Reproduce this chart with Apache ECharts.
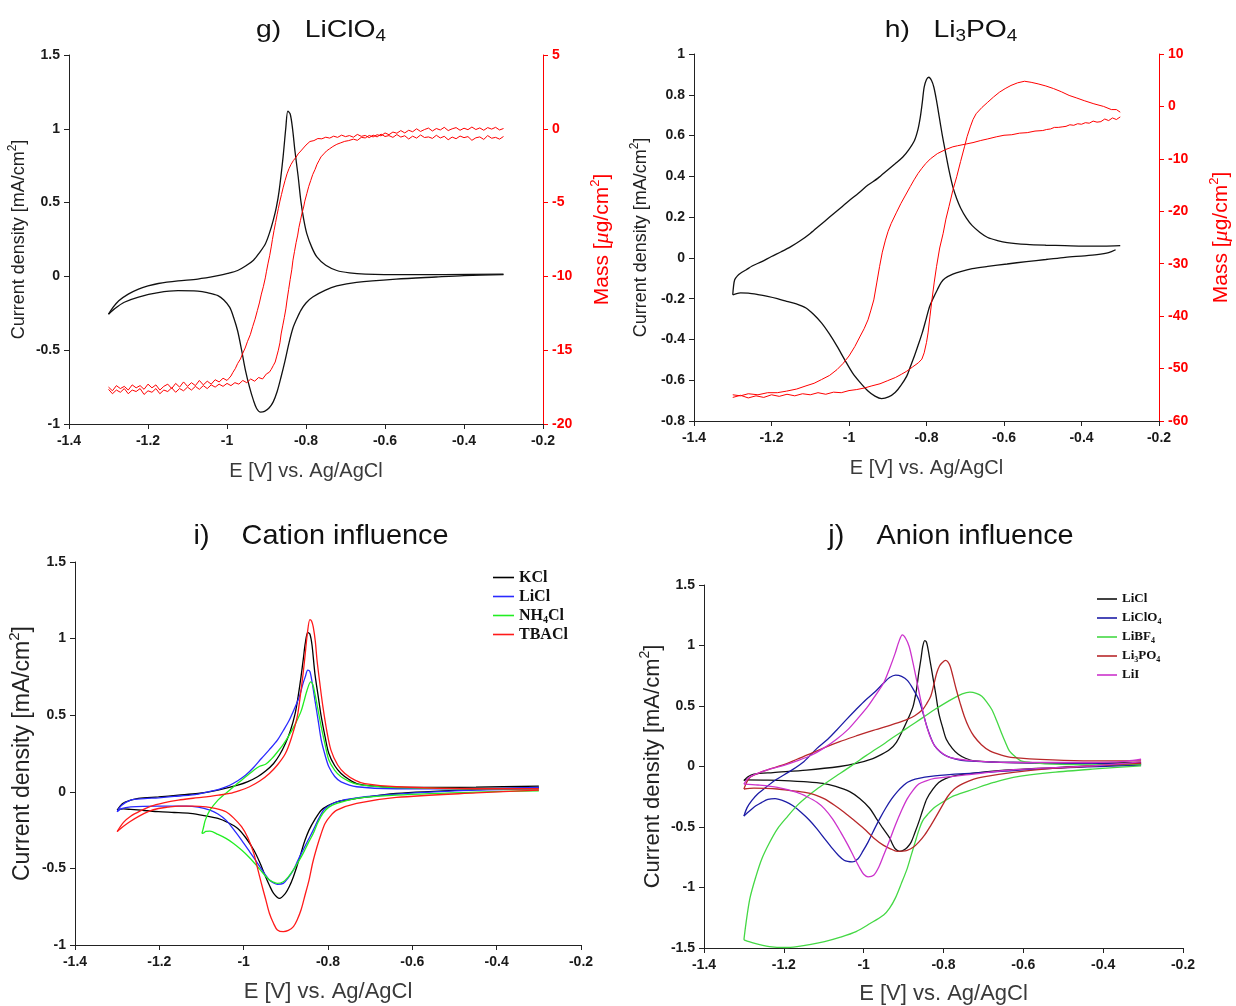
<!DOCTYPE html>
<html><head><meta charset="utf-8">
<script src="https://cdn.jsdelivr.net/npm/echarts@6/dist/echarts.min.js"></script>
<style>html,body{margin:0;padding:0;background:#fff}#c{width:1236px;height:1006px}</style>
</head><body><div id="c"></div>
<script>
// ---------------- DATA ----------------
// g) LiClO4 : current density (mA/cm2) and mass (ug/cm2) vs E (V)
const gCurrentUp = [[-1.300,-0.256],[-1.290,-0.215],[-1.274,-0.165],[-1.250,-0.120],[-1.224,-0.086],[-1.200,-0.065],[-1.174,-0.048],[-1.124,-0.030],[-1.074,-0.018],[-1.023,0.005],[-0.998,0.020],[-0.973,0.040],[-0.953,0.070],[-0.933,0.110],[-0.918,0.160],[-0.903,0.220],[-0.893,0.290],[-0.883,0.380],[-0.875,0.470],[-0.868,0.580],[-0.858,0.810],[-0.851,1.010],[-0.846,1.120],[-0.840,1.100],[-0.834,1.000],[-0.828,0.850],[-0.820,0.680],[-0.813,0.510],[-0.806,0.390],[-0.798,0.290],[-0.785,0.195],[-0.772,0.130],[-0.750,0.075],[-0.722,0.040],[-0.690,0.024],[-0.650,0.016],[-0.550,0.012],[-0.450,0.012],[-0.300,0.016]];
const gCurrentDown = [[-0.300,0.012],[-0.400,0.005],[-0.471,-0.004],[-0.572,-0.018],[-0.672,-0.040],[-0.722,-0.065],[-0.752,-0.095],[-0.783,-0.140],[-0.800,-0.180],[-0.813,-0.230],[-0.823,-0.285],[-0.833,-0.350],[-0.843,-0.450],[-0.853,-0.570],[-0.863,-0.680],[-0.873,-0.780],[-0.883,-0.850],[-0.893,-0.890],[-0.905,-0.915],[-0.915,-0.920],[-0.925,-0.895],[-0.933,-0.840],[-0.943,-0.750],[-0.953,-0.640],[-0.963,-0.500],[-0.973,-0.370],[-0.983,-0.280],[-0.993,-0.210],[-1.008,-0.160],[-1.023,-0.130],[-1.050,-0.110],[-1.074,-0.100],[-1.124,-0.097],[-1.174,-0.110],[-1.224,-0.140],[-1.260,-0.175],[-1.285,-0.220],[-1.300,-0.256]];
const gMassCathodic = [[-0.300,-0.52],[-0.310,-0.70],[-0.320,-0.58],[-0.330,-0.64],[-0.340,-0.46],[-0.350,-0.72],[-0.360,-0.55],[-0.370,-0.61],[-0.380,-0.78],[-0.390,-0.53],[-0.400,-0.60],[-0.410,-0.49],[-0.420,-0.67],[-0.430,-0.56],[-0.440,-0.74],[-0.450,-0.51],[-0.460,-0.62],[-0.470,-0.44],[-0.480,-0.65],[-0.490,-0.55],[-0.500,-0.59],[-0.510,-0.42],[-0.520,-0.63],[-0.530,-0.50],[-0.540,-0.69],[-0.550,-0.47],[-0.560,-0.56],[-0.570,-0.39],[-0.580,-0.58],[-0.590,-0.46],[-0.600,-0.52],[-0.610,-0.36],[-0.620,-0.55],[-0.630,-0.43],[-0.640,-0.60],[-0.650,-0.45],[-0.660,-0.51],[-0.670,-0.38],[-0.680,-0.57],[-0.690,-0.46],[-0.700,-0.53],[-0.710,-0.43],[-0.720,-0.58],[-0.730,-0.50],[-0.740,-0.63],[-0.750,-0.57],[-0.760,-0.68],[-0.770,-0.66],[-0.780,-0.80],[-0.790,-0.86],[-0.800,-1.10],[-0.805,-1.22],[-0.813,-1.50],[-0.820,-1.70],[-0.825,-1.92],[-0.832,-2.15],[-0.838,-2.42],[-0.843,-2.70],[-0.848,-3.05],[-0.853,-3.50],[-0.858,-4.00],[-0.862,-4.45],[-0.866,-4.90],[-0.870,-5.40],[-0.873,-5.80],[-0.877,-6.35],[-0.881,-6.90],[-0.885,-7.50],[-0.888,-8.00],[-0.892,-8.60],[-0.896,-9.10],[-0.900,-9.65],[-0.903,-10.10],[-0.908,-10.70],[-0.913,-11.20],[-0.918,-11.80],[-0.923,-12.30],[-0.929,-12.90],[-0.935,-13.40],[-0.941,-13.95],[-0.948,-14.40],[-0.954,-14.85],[-0.960,-15.20],[-0.966,-15.60],[-0.973,-15.90],[-0.979,-16.25],[-0.985,-16.50],[-0.990,-16.75],[-0.995,-16.90],[-1.000,-17.05],[-1.010,-16.90],[-1.020,-17.15],[-1.030,-17.00],[-1.040,-17.30],[-1.050,-17.10],[-1.060,-17.35],[-1.070,-17.05],[-1.080,-17.40],[-1.090,-17.20],[-1.100,-17.45],[-1.110,-17.15],[-1.120,-17.50],[-1.130,-17.25],[-1.140,-17.60],[-1.150,-17.30],[-1.160,-17.45],[-1.170,-17.70],[-1.180,-17.35],[-1.190,-17.55],[-1.200,-17.30],[-1.210,-17.65],[-1.220,-17.40],[-1.230,-17.55],[-1.240,-17.35],[-1.250,-17.70],[-1.260,-17.45],[-1.270,-17.60],[-1.280,-17.40],[-1.290,-17.75],[-1.300,-17.50]];
const gMassAnodic = [[-1.300,-17.65],[-1.290,-17.95],[-1.280,-17.70],[-1.270,-17.85],[-1.260,-17.60],[-1.250,-17.95],[-1.240,-17.70],[-1.230,-17.80],[-1.220,-17.60],[-1.210,-18.00],[-1.200,-17.75],[-1.190,-17.85],[-1.180,-17.60],[-1.170,-17.95],[-1.160,-17.70],[-1.150,-17.80],[-1.140,-17.55],[-1.130,-17.85],[-1.120,-17.60],[-1.110,-17.75],[-1.100,-17.50],[-1.090,-17.70],[-1.080,-17.45],[-1.070,-17.65],[-1.060,-17.40],[-1.050,-17.60],[-1.040,-17.35],[-1.030,-17.50],[-1.020,-17.30],[-1.010,-17.45],[-1.000,-17.25],[-0.990,-17.40],[-0.980,-17.20],[-0.970,-17.30],[-0.960,-17.05],[-0.950,-17.20],[-0.940,-16.95],[-0.930,-17.10],[-0.920,-16.85],[-0.910,-16.95],[-0.900,-16.60],[-0.893,-16.50],[-0.888,-16.30],[-0.883,-16.05],[-0.878,-15.80],[-0.874,-15.40],[-0.870,-15.00],[-0.866,-14.50],[-0.863,-13.90],[-0.859,-13.35],[-0.855,-12.80],[-0.851,-12.20],[-0.848,-11.60],[-0.844,-10.90],[-0.840,-10.20],[-0.836,-9.55],[-0.833,-8.90],[-0.829,-8.30],[-0.825,-7.70],[-0.821,-7.20],[-0.818,-6.70],[-0.814,-6.20],[-0.810,-5.70],[-0.806,-5.30],[-0.803,-4.90],[-0.798,-4.40],[-0.793,-3.90],[-0.788,-3.50],[-0.783,-3.10],[-0.777,-2.75],[-0.772,-2.40],[-0.767,-2.15],[-0.762,-1.90],[-0.755,-1.70],[-0.748,-1.50],[-0.740,-1.35],[-0.732,-1.20],[-0.722,-1.05],[-0.712,-0.95],[-0.702,-0.85],[-0.692,-0.80],[-0.680,-0.70],[-0.670,-0.78],[-0.660,-0.58],[-0.650,-0.62],[-0.640,-0.45],[-0.630,-0.55],[-0.620,-0.40],[-0.610,-0.48],[-0.600,-0.28],[-0.590,-0.40],[-0.580,-0.22],[-0.570,-0.30],[-0.560,-0.12],[-0.550,-0.28],[-0.540,-0.10],[-0.530,-0.20],[-0.520,0.00],[-0.510,-0.18],[-0.500,-0.05],[-0.490,0.05],[-0.480,-0.15],[-0.470,0.02],[-0.460,-0.08],[-0.450,0.10],[-0.440,-0.12],[-0.430,0.00],[-0.420,0.08],[-0.410,-0.10],[-0.400,0.04],[-0.390,-0.06],[-0.380,0.12],[-0.370,-0.05],[-0.360,0.06],[-0.350,-0.10],[-0.340,0.08],[-0.330,-0.02],[-0.320,0.10],[-0.310,-0.08],[-0.300,0.02]];

// h) Li3PO4
const hCurrentUp = [[-1.300,-0.181],[-1.298,-0.140],[-1.295,-0.107],[-1.288,-0.088],[-1.280,-0.075],[-1.265,-0.058],[-1.250,-0.040],[-1.225,-0.018],[-1.200,0.007],[-1.175,0.030],[-1.150,0.055],[-1.125,0.085],[-1.100,0.120],[-1.075,0.160],[-1.050,0.200],[-1.025,0.240],[-1.000,0.280],[-0.975,0.318],[-0.951,0.357],[-0.926,0.390],[-0.901,0.430],[-0.881,0.462],[-0.861,0.495],[-0.846,0.530],[-0.831,0.576],[-0.822,0.630],[-0.816,0.690],[-0.811,0.760],[-0.806,0.837],[-0.800,0.875],[-0.794,0.886],[-0.787,0.870],[-0.781,0.837],[-0.774,0.770],[-0.767,0.690],[-0.760,0.610],[-0.752,0.528],[-0.742,0.430],[-0.732,0.348],[-0.722,0.290],[-0.712,0.245],[-0.697,0.195],[-0.682,0.158],[-0.662,0.125],[-0.642,0.100],[-0.617,0.085],[-0.592,0.075],[-0.542,0.066],[-0.492,0.062],[-0.443,0.060],[-0.393,0.058],[-0.343,0.058],[-0.300,0.060]];
const hCurrentDown = [[-0.312,0.040],[-0.330,0.026],[-0.360,0.016],[-0.392,0.010],[-0.442,0.003],[-0.492,-0.008],[-0.542,-0.018],[-0.592,-0.030],[-0.642,-0.042],[-0.682,-0.053],[-0.712,-0.067],[-0.732,-0.080],[-0.752,-0.100],[-0.762,-0.120],[-0.772,-0.156],[-0.782,-0.195],[-0.792,-0.238],[-0.801,-0.300],[-0.811,-0.368],[-0.821,-0.425],[-0.831,-0.480],[-0.841,-0.530],[-0.851,-0.580],[-0.866,-0.625],[-0.881,-0.660],[-0.898,-0.682],[-0.916,-0.690],[-0.933,-0.678],[-0.951,-0.653],[-0.971,-0.612],[-0.991,-0.564],[-1.011,-0.500],[-1.031,-0.433],[-1.051,-0.372],[-1.071,-0.319],[-1.091,-0.278],[-1.111,-0.246],[-1.136,-0.226],[-1.161,-0.213],[-1.185,-0.200],[-1.210,-0.189],[-1.235,-0.180],[-1.260,-0.173],[-1.280,-0.172],[-1.290,-0.175],[-1.300,-0.181]];
const hMassCathodic = [[-0.300,-2.0],[-0.310,-2.5],[-0.320,-2.2],[-0.330,-2.7],[-0.340,-2.4],[-0.350,-2.9],[-0.360,-3.0],[-0.370,-2.8],[-0.380,-3.2],[-0.390,-3.1],[-0.400,-3.4],[-0.410,-3.3],[-0.420,-3.6],[-0.430,-3.5],[-0.440,-3.8],[-0.450,-3.9],[-0.460,-4.0],[-0.470,-4.0],[-0.480,-4.3],[-0.490,-4.4],[-0.500,-4.6],[-0.520,-4.7],[-0.540,-5.0],[-0.560,-5.1],[-0.580,-5.4],[-0.600,-5.5],[-0.620,-5.8],[-0.642,-6.2],[-0.660,-6.5],[-0.680,-6.9],[-0.700,-7.2],[-0.720,-7.5],[-0.732,-7.7],[-0.750,-8.2],[-0.772,-9.0],[-0.790,-10.0],[-0.802,-10.9],[-0.812,-11.8],[-0.822,-12.8],[-0.832,-14.0],[-0.842,-15.3],[-0.854,-16.9],[-0.866,-18.5],[-0.878,-20.3],[-0.891,-22.3],[-0.899,-23.8],[-0.906,-25.5],[-0.914,-27.8],[-0.921,-30.5],[-0.928,-33.5],[-0.936,-36.9],[-0.944,-39.0],[-0.951,-40.7],[-0.961,-42.4],[-0.971,-43.8],[-0.985,-45.8],[-1.000,-47.6],[-1.015,-49.0],[-1.031,-50.2],[-1.050,-51.3],[-1.071,-52.1],[-1.090,-52.8],[-1.111,-53.3],[-1.135,-53.9],[-1.161,-54.3],[-1.185,-54.6],[-1.210,-54.6],[-1.235,-55.0],[-1.260,-54.8],[-1.280,-55.2],[-1.300,-55.0]];
const hMassAnodic = [[-1.300,-55.5],[-1.280,-55.1],[-1.260,-55.6],[-1.240,-55.2],[-1.220,-55.5],[-1.200,-55.0],[-1.180,-55.3],[-1.160,-54.9],[-1.140,-55.2],[-1.120,-54.8],[-1.100,-55.0],[-1.080,-54.6],[-1.060,-54.9],[-1.040,-54.5],[-1.020,-54.6],[-1.000,-54.2],[-0.980,-54.0],[-0.960,-53.7],[-0.941,-53.3],[-0.920,-52.9],[-0.900,-52.3],[-0.880,-51.7],[-0.865,-51.1],[-0.851,-50.5],[-0.836,-49.7],[-0.821,-48.9],[-0.812,-48.2],[-0.806,-47.0],[-0.800,-45.0],[-0.796,-43.2],[-0.791,-40.0],[-0.786,-36.9],[-0.780,-33.5],[-0.774,-30.5],[-0.766,-27.0],[-0.757,-24.2],[-0.750,-21.5],[-0.742,-19.1],[-0.732,-16.0],[-0.722,-13.4],[-0.712,-10.5],[-0.702,-7.7],[-0.695,-5.7],[-0.687,-3.9],[-0.680,-2.5],[-0.672,-1.4],[-0.657,-0.2],[-0.642,0.8],[-0.627,1.8],[-0.612,2.7],[-0.597,3.4],[-0.582,4.0],[-0.565,4.5],[-0.547,4.8],[-0.530,4.6],[-0.512,4.3],[-0.492,3.9],[-0.472,3.4],[-0.452,2.8],[-0.432,2.1],[-0.412,1.6],[-0.393,1.1],[-0.368,0.5],[-0.343,0.0],[-0.323,-0.6],[-0.310,-0.6],[-0.300,-1.1]];

// i) Cation influence
const iKClUp = [[-1.300,-0.120],[-1.287,-0.076],[-1.268,-0.055],[-1.250,-0.043],[-1.202,-0.033],[-1.155,-0.022],[-1.108,-0.011],[-1.061,0.011],[-1.014,0.043],[-0.990,0.066],[-0.967,0.098],[-0.948,0.135],[-0.929,0.185],[-0.915,0.240],[-0.901,0.315],[-0.889,0.400],[-0.878,0.510],[-0.871,0.620],[-0.864,0.750],[-0.858,0.880],[-0.854,0.967],[-0.848,1.040],[-0.843,1.030],[-0.838,0.960],[-0.831,0.770],[-0.823,0.620],[-0.816,0.490],[-0.807,0.360],[-0.798,0.250],[-0.784,0.170],[-0.769,0.120],[-0.750,0.080],[-0.732,0.054],[-0.690,0.037],[-0.638,0.030],[-0.540,0.028],[-0.449,0.030],[-0.300,0.037]];
const iKClDown = [[-0.300,0.028],[-0.449,0.015],[-0.638,-0.011],[-0.732,-0.043],[-0.779,-0.065],[-0.800,-0.090],[-0.816,-0.120],[-0.831,-0.180],[-0.845,-0.250],[-0.855,-0.320],[-0.864,-0.400],[-0.873,-0.480],[-0.882,-0.554],[-0.892,-0.620],[-0.901,-0.663],[-0.915,-0.696],[-0.929,-0.663],[-0.939,-0.610],[-0.948,-0.554],[-0.962,-0.460],[-0.976,-0.380],[-0.995,-0.300],[-1.014,-0.239],[-1.038,-0.200],[-1.061,-0.174],[-1.094,-0.155],[-1.127,-0.141],[-1.165,-0.135],[-1.202,-0.130],[-1.235,-0.122],[-1.268,-0.115],[-1.285,-0.112],[-1.300,-0.120]];
const iLiClUp = [[-1.300,-0.130],[-1.290,-0.090],[-1.268,-0.054],[-1.235,-0.045],[-1.202,-0.039],[-1.165,-0.030],[-1.127,-0.022],[-1.100,-0.010],[-1.071,0.007],[-1.052,0.022],[-1.033,0.043],[-1.014,0.072],[-0.995,0.109],[-0.976,0.160],[-0.958,0.217],[-0.939,0.275],[-0.920,0.337],[-0.906,0.400],[-0.892,0.467],[-0.880,0.540],[-0.868,0.620],[-0.860,0.700],[-0.854,0.750],[-0.848,0.794],[-0.843,0.785],[-0.838,0.720],[-0.831,0.598],[-0.823,0.460],[-0.816,0.337],[-0.807,0.240],[-0.798,0.163],[-0.784,0.100],[-0.769,0.065],[-0.732,0.033],[-0.638,0.020],[-0.449,0.020],[-0.300,0.028]];
const iLiClDown = [[-0.300,0.020],[-0.449,0.011],[-0.638,-0.015],[-0.732,-0.039],[-0.779,-0.065],[-0.807,-0.109],[-0.821,-0.170],[-0.835,-0.250],[-0.847,-0.315],[-0.859,-0.380],[-0.871,-0.445],[-0.882,-0.510],[-0.894,-0.560],[-0.906,-0.598],[-0.920,-0.604],[-0.929,-0.595],[-0.939,-0.576],[-0.953,-0.525],[-0.967,-0.467],[-0.986,-0.390],[-1.005,-0.315],[-1.024,-0.245],[-1.042,-0.185],[-1.061,-0.145],[-1.080,-0.120],[-1.108,-0.100],[-1.136,-0.093],[-1.202,-0.093],[-1.268,-0.098],[-1.290,-0.110],[-1.300,-0.130]];
const iNH4ClUp = [[-1.099,-0.272],[-1.095,-0.230],[-1.091,-0.185],[-1.080,-0.120],[-1.061,-0.054],[-1.047,-0.020],[-1.033,0.011],[-1.019,0.045],[-1.005,0.076],[-0.990,0.110],[-0.976,0.141],[-0.962,0.167],[-0.948,0.180],[-0.934,0.215],[-0.920,0.260],[-0.906,0.310],[-0.892,0.370],[-0.878,0.440],[-0.864,0.525],[-0.857,0.590],[-0.850,0.660],[-0.841,0.717],[-0.836,0.700],[-0.831,0.640],[-0.824,0.540],[-0.816,0.424],[-0.807,0.310],[-0.798,0.207],[-0.784,0.140],[-0.769,0.098],[-0.750,0.068],[-0.732,0.050],[-0.690,0.035],[-0.638,0.028],[-0.449,0.020],[-0.300,0.020]];
const iNH4ClDown = [[-0.300,0.007],[-0.449,-0.002],[-0.638,-0.022],[-0.732,-0.043],[-0.779,-0.076],[-0.798,-0.100],[-0.812,-0.141],[-0.824,-0.200],[-0.835,-0.272],[-0.847,-0.335],[-0.859,-0.402],[-0.871,-0.460],[-0.882,-0.510],[-0.894,-0.555],[-0.906,-0.587],[-0.920,-0.598],[-0.929,-0.590],[-0.939,-0.576],[-0.953,-0.535],[-0.967,-0.489],[-0.986,-0.430],[-1.005,-0.380],[-1.024,-0.337],[-1.042,-0.304],[-1.061,-0.278],[-1.080,-0.257],[-1.090,-0.258],[-1.094,-0.267],[-1.099,-0.272]];
const iTBAClUp = [[-1.300,-0.260],[-1.285,-0.200],[-1.268,-0.160],[-1.245,-0.125],[-1.221,-0.095],[-1.190,-0.072],[-1.155,-0.054],[-1.120,-0.042],[-1.089,-0.033],[-1.060,-0.022],[-1.033,-0.011],[-1.010,0.008],[-0.986,0.033],[-0.962,0.070],[-0.939,0.120],[-0.920,0.175],[-0.901,0.250],[-0.887,0.350],[-0.873,0.489],[-0.866,0.620],[-0.859,0.772],[-0.854,0.900],[-0.849,1.033],[-0.843,1.124],[-0.839,1.115],[-0.835,1.076],[-0.830,0.980],[-0.826,0.859],[-0.819,0.700],[-0.812,0.554],[-0.803,0.400],[-0.793,0.272],[-0.777,0.175],[-0.760,0.120],[-0.735,0.075],[-0.713,0.054],[-0.638,0.033],[-0.449,0.020],[-0.300,0.020]];
const iTBAClDown = [[-0.300,0.011],[-0.449,-0.007],[-0.638,-0.037],[-0.732,-0.076],[-0.779,-0.120],[-0.795,-0.160],[-0.807,-0.207],[-0.817,-0.280],[-0.826,-0.359],[-0.836,-0.460],[-0.845,-0.576],[-0.855,-0.680],[-0.864,-0.772],[-0.873,-0.835],[-0.882,-0.880],[-0.894,-0.905],[-0.906,-0.913],[-0.920,-0.902],[-0.929,-0.860],[-0.939,-0.793],[-0.948,-0.700],[-0.958,-0.598],[-0.967,-0.500],[-0.976,-0.402],[-0.990,-0.300],[-1.005,-0.228],[-1.024,-0.170],[-1.042,-0.130],[-1.065,-0.110],[-1.089,-0.098],[-1.120,-0.093],[-1.155,-0.093],[-1.180,-0.100],[-1.202,-0.109],[-1.225,-0.128],[-1.249,-0.160],[-1.270,-0.195],[-1.285,-0.225],[-1.300,-0.260]];

// j) Anion influence
const jLiClUp = [[-1.300,-0.118],[-1.290,-0.085],[-1.275,-0.063],[-1.227,-0.050],[-1.143,-0.030],[-1.060,0.000],[-1.019,0.025],[-0.977,0.066],[-0.955,0.100],[-0.935,0.140],[-0.918,0.200],[-0.901,0.307],[-0.888,0.400],[-0.876,0.499],[-0.868,0.630],[-0.862,0.773],[-0.856,0.900],[-0.852,0.992],[-0.847,1.041],[-0.843,1.030],[-0.840,0.992],[-0.834,0.880],[-0.827,0.745],[-0.819,0.590],[-0.812,0.444],[-0.802,0.320],[-0.793,0.225],[-0.778,0.150],[-0.763,0.101],[-0.745,0.068],[-0.724,0.047],[-0.625,0.033],[-0.428,0.027],[-0.305,0.033]];
const jLiClDown = [[-0.305,0.019],[-0.428,0.005],[-0.625,-0.027],[-0.724,-0.055],[-0.773,-0.077],[-0.795,-0.100],[-0.812,-0.132],[-0.827,-0.190],[-0.842,-0.268],[-0.852,-0.360],[-0.862,-0.460],[-0.872,-0.550],[-0.881,-0.625],[-0.891,-0.670],[-0.901,-0.693],[-0.910,-0.701],[-0.921,-0.680],[-0.928,-0.640],[-0.935,-0.590],[-0.952,-0.510],[-0.970,-0.420],[-0.985,-0.345],[-1.010,-0.265],[-1.035,-0.208],[-1.070,-0.165],[-1.102,-0.140],[-1.150,-0.125],[-1.185,-0.118],[-1.240,-0.112],[-1.300,-0.110]];
const jLiClO4Up = [[-1.300,-0.410],[-1.292,-0.340],[-1.280,-0.280],[-1.265,-0.225],[-1.248,-0.180],[-1.220,-0.110],[-1.185,-0.040],[-1.150,0.040],[-1.117,0.150],[-1.090,0.225],[-1.068,0.300],[-1.044,0.385],[-1.019,0.471],[-0.995,0.550],[-0.970,0.622],[-0.950,0.690],[-0.935,0.735],[-0.920,0.755],[-0.905,0.745],[-0.890,0.710],[-0.876,0.640],[-0.862,0.553],[-0.852,0.450],[-0.842,0.334],[-0.832,0.240],[-0.822,0.170],[-0.808,0.120],[-0.793,0.088],[-0.770,0.062],[-0.743,0.047],[-0.625,0.033],[-0.305,0.019]];
const jLiClO4Down = [[-0.305,0.011],[-0.527,-0.016],[-0.724,-0.055],[-0.822,-0.077],[-0.871,-0.104],[-0.890,-0.130],[-0.901,-0.159],[-0.915,-0.205],[-0.930,-0.268],[-0.945,-0.345],[-0.960,-0.433],[-0.975,-0.530],[-0.989,-0.625],[-1.002,-0.700],[-1.014,-0.762],[-1.029,-0.789],[-1.040,-0.785],[-1.049,-0.775],[-1.063,-0.735],[-1.078,-0.679],[-1.097,-0.600],[-1.117,-0.515],[-1.137,-0.440],[-1.157,-0.378],[-1.177,-0.325],[-1.196,-0.290],[-1.222,-0.265],[-1.240,-0.272],[-1.255,-0.296],[-1.270,-0.325],[-1.280,-0.351],[-1.292,-0.385],[-1.300,-0.410]];
const jLiBF4Up = [[-1.300,-1.433],[-1.295,-1.300],[-1.285,-1.090],[-1.270,-0.910],[-1.255,-0.762],[-1.236,-0.630],[-1.216,-0.515],[-1.190,-0.410],[-1.167,-0.323],[-1.142,-0.250],[-1.117,-0.186],[-1.092,-0.130],[-1.068,-0.077],[-1.043,-0.022],[-1.019,0.033],[-0.995,0.088],[-0.970,0.142],[-0.945,0.197],[-0.921,0.252],[-0.896,0.307],[-0.871,0.362],[-0.846,0.417],[-0.822,0.471],[-0.797,0.522],[-0.773,0.567],[-0.753,0.600],[-0.734,0.614],[-0.718,0.605],[-0.704,0.581],[-0.692,0.535],[-0.679,0.471],[-0.667,0.380],[-0.655,0.279],[-0.645,0.200],[-0.635,0.129],[-0.620,0.080],[-0.606,0.047],[-0.570,0.030],[-0.527,0.019],[-0.428,0.014],[-0.305,0.019]];
const jLiBF4Down = [[-0.305,0.005],[-0.428,-0.022],[-0.527,-0.049],[-0.625,-0.090],[-0.674,-0.132],[-0.724,-0.186],[-0.773,-0.241],[-0.800,-0.290],[-0.822,-0.337],[-0.838,-0.390],[-0.852,-0.447],[-0.862,-0.530],[-0.871,-0.625],[-0.881,-0.735],[-0.891,-0.844],[-0.906,-0.970],[-0.921,-1.090],[-0.935,-1.170],[-0.950,-1.227],[-0.985,-1.300],[-1.019,-1.364],[-1.058,-1.410],[-1.098,-1.447],[-1.132,-1.470],[-1.167,-1.488],[-1.196,-1.496],[-1.236,-1.488],[-1.275,-1.460],[-1.300,-1.433]];
const jLi3PO4Up = [[-1.300,-0.186],[-1.293,-0.130],[-1.285,-0.090],[-1.260,-0.050],[-1.236,-0.022],[-1.200,0.015],[-1.167,0.060],[-1.130,0.110],[-1.098,0.156],[-1.060,0.205],[-1.019,0.252],[-0.980,0.295],[-0.940,0.334],[-0.915,0.360],[-0.891,0.389],[-0.872,0.420],[-0.852,0.471],[-0.842,0.520],[-0.832,0.581],[-0.824,0.680],[-0.817,0.773],[-0.810,0.830],[-0.804,0.855],[-0.795,0.877],[-0.789,0.865],[-0.783,0.827],[-0.776,0.740],[-0.768,0.636],[-0.758,0.520],[-0.748,0.416],[-0.736,0.320],[-0.724,0.252],[-0.705,0.180],[-0.684,0.129],[-0.655,0.095],[-0.625,0.074],[-0.527,0.055],[-0.428,0.047],[-0.305,0.047]];
const jLi3PO4Down = [[-0.305,0.027],[-0.428,0.005],[-0.527,-0.016],[-0.625,-0.049],[-0.700,-0.085],[-0.724,-0.104],[-0.750,-0.140],[-0.773,-0.186],[-0.790,-0.250],[-0.803,-0.323],[-0.818,-0.410],[-0.832,-0.488],[-0.847,-0.565],[-0.862,-0.625],[-0.876,-0.668],[-0.891,-0.693],[-0.905,-0.700],[-0.916,-0.701],[-0.933,-0.680],[-0.950,-0.652],[-0.975,-0.590],[-0.999,-0.515],[-1.024,-0.445],[-1.049,-0.378],[-1.073,-0.320],[-1.098,-0.268],[-1.122,-0.235],[-1.147,-0.214],[-1.180,-0.200],[-1.216,-0.186],[-1.245,-0.180],[-1.275,-0.178],[-1.300,-0.186]];
const jLiIUp = [[-1.300,-0.145],[-1.290,-0.100],[-1.275,-0.070],[-1.236,-0.022],[-1.200,0.010],[-1.167,0.047],[-1.130,0.095],[-1.098,0.156],[-1.068,0.225],[-1.039,0.307],[-1.014,0.400],[-0.989,0.499],[-0.970,0.590],[-0.950,0.690],[-0.935,0.810],[-0.921,0.937],[-0.912,1.030],[-0.903,1.088],[-0.895,1.060],[-0.886,0.992],[-0.876,0.850],[-0.866,0.690],[-0.856,0.530],[-0.847,0.389],[-0.835,0.260],[-0.822,0.170],[-0.803,0.110],[-0.783,0.074],[-0.724,0.047],[-0.625,0.033],[-0.428,0.033],[-0.340,0.045],[-0.305,0.060]];
const jLiIDown = [[-0.305,0.038],[-0.428,0.005],[-0.625,-0.027],[-0.724,-0.063],[-0.822,-0.099],[-0.845,-0.120],[-0.862,-0.145],[-0.876,-0.195],[-0.891,-0.268],[-0.906,-0.370],[-0.921,-0.488],[-0.935,-0.610],[-0.950,-0.734],[-0.962,-0.830],[-0.975,-0.899],[-0.989,-0.912],[-1.000,-0.890],[-1.009,-0.844],[-1.024,-0.750],[-1.039,-0.652],[-1.058,-0.540],[-1.078,-0.433],[-1.098,-0.350],[-1.117,-0.296],[-1.142,-0.250],[-1.167,-0.214],[-1.216,-0.173],[-1.265,-0.153],[-1.300,-0.145]];

// legend labels, colours
const iNames = ['KCl','LiCl','NH4Cl','TBACl'];
const iColors = ['#000000','#2a2aff','#22ee22','#ff1a1a'];
const jNames = ['LiCl','LiClO4','LiBF4','Li3PO4','LiI'];
const jColors = ['#111111','#1c1ca6','#44d844','#b8282a','#cc33cc'];

// ---------------- CHART ----------------
const F = "'Liberation Sans', Arial, sans-serif";
const SERIF = "'Liberation Serif', 'Times New Roman', serif";
const chart = echarts.init(document.getElementById('c'), null, {renderer:'canvas'});
const fmt = v => String(Math.round(v*100)/100);

function xAxisCfg(gi, gap, fs){
  return {type:'value', gridIndex:gi, min:-1.4, max:-0.2, interval:0.2,
    name:'E [V] vs. Ag/AgCl', nameLocation:'middle', nameGap:gap,
    nameTextStyle:{fontFamily:F, fontSize:fs, color:'#3a3a3a'},
    axisLine:{show:true, onZero:false, lineStyle:{color:'#222', width:1}},
    axisTick:{show:true, length:5, lineStyle:{color:'#222'}},
    axisLabel:{fontFamily:F, fontWeight:'bold', fontSize:14, color:'#1a1a1a', margin:10, formatter:fmt},
    splitLine:{show:false}};
}
function curName(fs){
  return {name:'{n|Current density [mA/cm}{sup|2}{n|]}',
    rich:{n:{fontFamily:F, fontSize:fs, color:'#222', lineHeight:fs+2},
          sup:{fontFamily:F, fontSize:Math.round(fs*0.65), color:'#222', lineHeight:fs*0.6, padding:[0,0,Math.round(fs*0.7),0]}}};
}
function yLeft(gi, min, max, interval, fs, gap){
  const cn = curName(fs);
  return {type:'value', gridIndex:gi, min, max, interval, position:'left',
    name:cn.name, nameLocation:'middle', nameGap:gap, nameRotate:90,
    nameTextStyle:{rich:cn.rich},
    axisLine:{show:true, onZero:false, lineStyle:{color:'#222', width:1}},
    axisTick:{show:true, length:5, lineStyle:{color:'#222'}},
    axisLabel:{fontFamily:F, fontWeight:'bold', fontSize:14, color:'#1a1a1a', margin:9, formatter:fmt},
    splitLine:{show:false}};
}
function yMass(gi, min, max, interval, gap){
  const fs = 21;
  return {type:'value', gridIndex:gi, min, max, interval, position:'right',
    name:'{n|Mass [}{mu|\u03bc}{n|g/cm}{sup|2}{n|]}', nameLocation:'middle', nameGap:gap, nameRotate:90,
    nameTextStyle:{rich:{
      n:{fontFamily:F, fontSize:fs, color:'#ff0000', lineHeight:fs+2},
      mu:{fontFamily:SERIF, fontStyle:'italic', fontSize:fs+1, color:'#ff0000', lineHeight:fs+2},
      sup:{fontFamily:F, fontSize:13, color:'#ff0000', lineHeight:12, padding:[0,0,14,0]}}},
    axisLine:{show:true, onZero:false, lineStyle:{color:'#ff0000', width:1}},
    axisTick:{show:true, length:5, lineStyle:{color:'#ff0000'}},
    axisLabel:{fontFamily:F, fontWeight:'bold', fontSize:14, color:'#ff0000', margin:9, formatter:fmt},
    splitLine:{show:false}};
}
function line(name, data, xi, yi, color, width, smooth){
  return {name, type:'line', data, xAxisIndex:xi, yAxisIndex:yi, symbol:'none', showSymbol:false,
    smooth: smooth, silent:true, animation:false,
    itemStyle:{color}, lineStyle:{color, width}};
}

const series = [
  line('gCur1', gCurrentUp, 0, 0, '#111', 1.3, 0.3),
  line('gCur2', gCurrentDown, 0, 0, '#111', 1.3, 0.3),
  line('gMass1', gMassCathodic, 0, 1, '#ff0000', 1, false),
  line('gMass2', gMassAnodic, 0, 1, '#ff0000', 1, false),
  line('hCur1', hCurrentUp, 1, 2, '#111', 1.3, 0.3),
  line('hCur2', hCurrentDown, 1, 2, '#111', 1.3, 0.3),
  line('hMass1', hMassCathodic, 1, 3, '#ff0000', 1, false),
  line('hMass2', hMassAnodic, 1, 3, '#ff0000', 1, false)
];
const iData = [[iKClUp,iKClDown],[iLiClUp,iLiClDown],[iNH4ClUp,iNH4ClDown],[iTBAClUp,iTBAClDown]];
iNames.forEach((n,k)=>{
  series.push(line('i_'+n, iData[k][0], 2, 4, iColors[k], 1.3, 0.3));
  series.push(line('i_'+n+'_b', iData[k][1], 2, 4, iColors[k], 1.3, 0.3));
});
const jData = [[jLiClUp,jLiClDown],[jLiClO4Up,jLiClO4Down],[jLiBF4Up,jLiBF4Down],[jLi3PO4Up,jLi3PO4Down],[jLiIUp,jLiIDown]];
jNames.forEach((n,k)=>{
  series.push(line('j_'+n, jData[k][0], 3, 5, jColors[k], 1.3, 0.3));
  series.push(line('j_'+n+'_b', jData[k][1], 3, 5, jColors[k], 1.3, 0.3));
});

const legendRich = {
  'KCl':'{n|KCl}','LiCl':'{n|LiCl}','NH4Cl':'{n|NH}{s|4}{n|Cl}','TBACl':'{n|TBACl}',
  'LiClO4':'{n|LiClO}{s|4}','LiBF4':'{n|LiBF}{s|4}','Li3PO4':'{n|Li}{s|3}{n|PO}{s|4}','LiI':'{n|LiI}'
};
function legendCfg(prefix, names, left, top, fs, lh, gap, iw){
  return {show:true, orient:'vertical', left, top, itemWidth:iw, itemHeight:1.6, itemGap:gap, icon:'rect',
    padding:0, data:names.map(n=>prefix+n), selectedMode:false,
    formatter: name => legendRich[name.slice(2)],
    textStyle:{fontFamily:SERIF, fontWeight:'bold', color:'#111', fontSize:fs, lineHeight:lh,
      rich:{n:{fontFamily:SERIF, fontWeight:'bold', fontSize:fs, color:'#111', lineHeight:lh},
            s:{fontFamily:SERIF, fontWeight:'bold', fontSize:Math.round(fs*0.62), color:'#111', lineHeight:8, padding:[Math.round(fs*0.55),0,0,0]}}}};
}

function title(x, y, text, rich, sx){
  return {type:'text', x, y, scaleX:sx, silent:true,
    style:{text, rich, x:0, y:0, align:'center', verticalAlign:'middle'}};
}
const tRichSmall = {t:{fontFamily:F, fontSize:24, fill:'#111', lineHeight:28},
                    s:{fontFamily:F, fontSize:16, fill:'#111', lineHeight:10, padding:[14,0,0,0]}};
const tRichBig = {t:{fontFamily:F, fontSize:28, fill:'#111', lineHeight:32}};

const option = {
  backgroundColor:'#ffffff',
  animation:false,
  grid:[
    {left:69, top:55, width:474, height:369},
    {left:694, top:54, width:474, height:367},
    {left:75, top:562, width:506, height:383},
    {left:704, top:585, width:479, height:365}
  ],
  xAxis:[xAxisCfg(0,37,20), xAxisCfg(1,37,20), xAxisCfg(2,36,22), xAxisCfg(3,35,22)],
  yAxis:[
    yLeft(0,-1,1.5,0.5,18,40),
    yMass(0,-20,5,5,48),
    yLeft(1,-0.8,1,0.2,18,43),
    yMass(1,-60,10,10,51),
    yLeft(2,-1,1.5,0.5,23,38),
    yLeft(3,-1.5,1.5,0.5,22,37)
  ],
  legend:[
    legendCfg('i_', iNames, 493, 568, 16, 19, 0, 21),
    legendCfg('j_', jNames, 1097, 591, 13, 16, 3, 20)
  ],
  graphic:[
    title(321, 30, '{t|g)   LiClO}{s|4}', tRichSmall, 1.18),
    title(951, 30, '{t|h)   Li}{s|3}{t|PO}{s|4}', tRichSmall, 1.18),
    title(321, 536, '{t|i)    Cation influence}', tRichBig, 1.03),
    title(951, 536, '{t|j)    Anion influence}', tRichBig, 1.03)
  ],
  series
};
chart.setOption(option);
</script>
</body></html>
